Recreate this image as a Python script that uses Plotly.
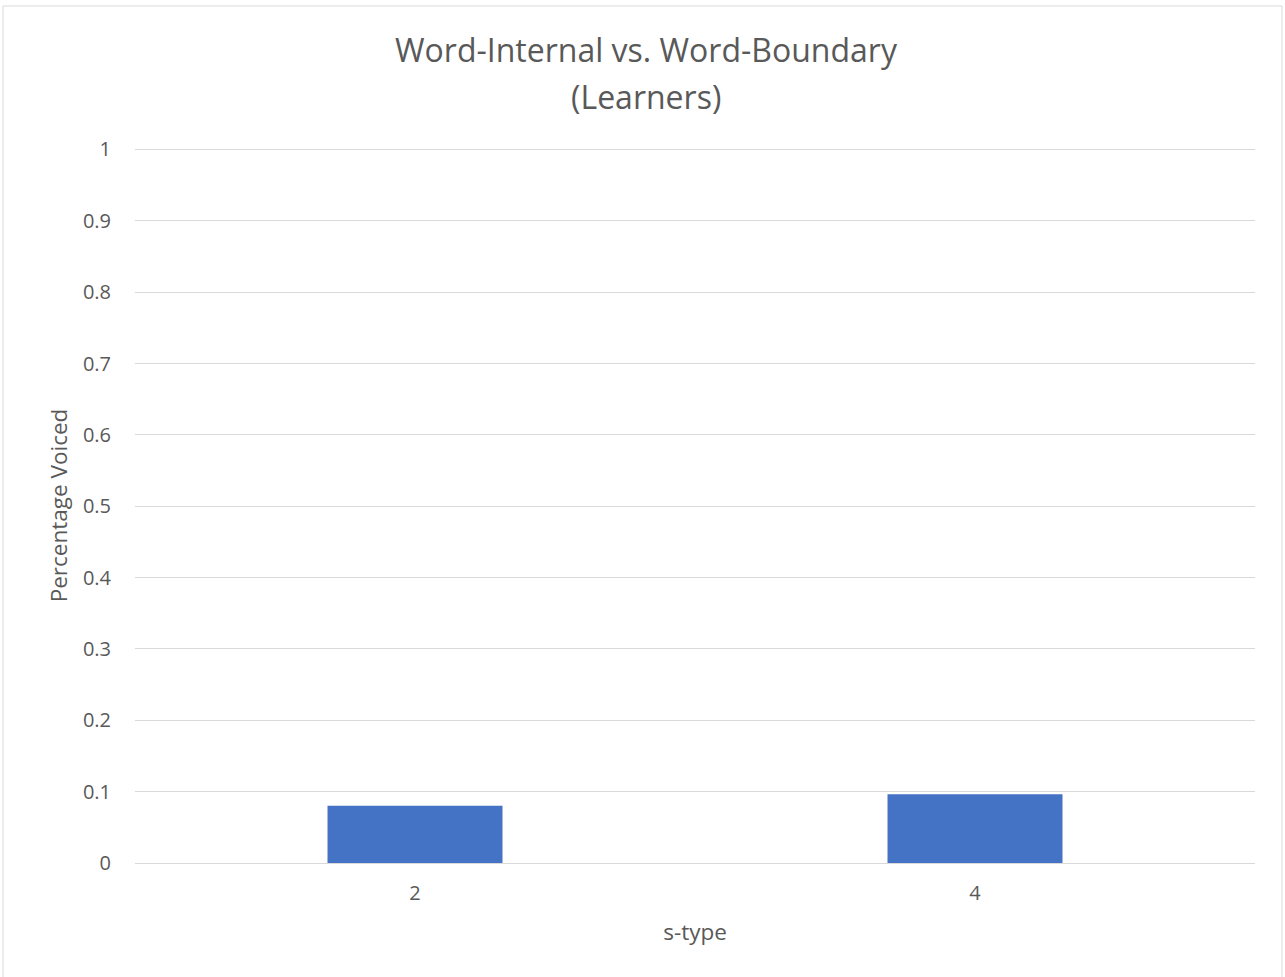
import plotly.graph_objects as go

# s-type categories and the share of voiced tokens for learners
s_types = ["2", "4"]
pct_voiced = [0.0804, 0.0962]

y_ticks = [0, 0.1, 0.2, 0.3, 0.4, 0.5, 0.6, 0.7, 0.8, 0.9, 1]
y_tick_text = ["0", "0.1", "0.2", "0.3", "0.4", "0.5", "0.6", "0.7", "0.8", "0.9", "1"]

title_lines = ["Word-Internal vs. Word-Boundary", "(Learners)"]

W, H = 1285, 977
L, R, T, B = 135, 30, 147.6, 114
pw, ph = W - L - R, H - T - B
y_top = 1.002  # a hair above 1 so the top gridline is drawn

text_col = "#595959"
grid_col = "#d9d9d9"
font_family = "Open Sans, Liberation Sans, sans-serif"


def py(pixel_y):
    """Convert a page pixel row to paper y."""
    return (H - B - pixel_y) / ph


def px(pixel_x):
    """Convert a page pixel column to paper x."""
    return (pixel_x - L) / pw


fig = go.Figure(
    go.Bar(
        x=s_types,
        y=pct_voiced,
        marker=dict(color="#4472c4", line=dict(width=0)),
    )
)

annotations = []
for i, line in enumerate(title_lines):
    annotations.append(
        dict(
            text=line,
            xref="paper",
            yref="paper",
            x=px(646),
            y=py(49.5 + 46.5 * i),
            xanchor="center",
            yanchor="middle",
            showarrow=False,
            font=dict(size=32, color=text_col, family=font_family),
        )
    )

fig.update_layout(
    width=W,
    height=H,
    margin=dict(l=L, r=R, t=T, b=B),
    paper_bgcolor="white",
    plot_bgcolor="white",
    bargap=0.6875,
    showlegend=False,
    font=dict(family=font_family, color=text_col, size=20),
    xaxis=dict(
        type="category",
        range=[-0.5, 1.5],
        showgrid=False,
        showline=True,
        linecolor=grid_col,
        linewidth=1,
        ticks="",
        tickfont=dict(size=20, color=text_col),
        ticklabelstandoff=12,
        title=dict(text="s-type", font=dict(size=22.5, color=text_col), standoff=19),
    ),
    yaxis=dict(
        range=[0, y_top],
        tickvals=y_ticks,
        ticktext=y_tick_text,
        showgrid=True,
        gridcolor=grid_col,
        gridwidth=1,
        zeroline=False,
        showline=False,
        ticks="",
        tickfont=dict(size=20, color=text_col),
        ticklabelstandoff=23,
        title=dict(text="Percentage Voiced", font=dict(size=22.5, color=text_col), standoff=9),
    ),
    annotations=annotations,
    shapes=[
        dict(
            type="rect",
            xref="paper",
            yref="paper",
            x0=px(3),
            x1=px(1282),
            y0=py(H + 20),
            y1=py(5.5),
            line=dict(color="#d9d9d9", width=1),
            fillcolor="rgba(0,0,0,0)",
            layer="below",
        )
    ],
)

fig.write_html("out.html")
